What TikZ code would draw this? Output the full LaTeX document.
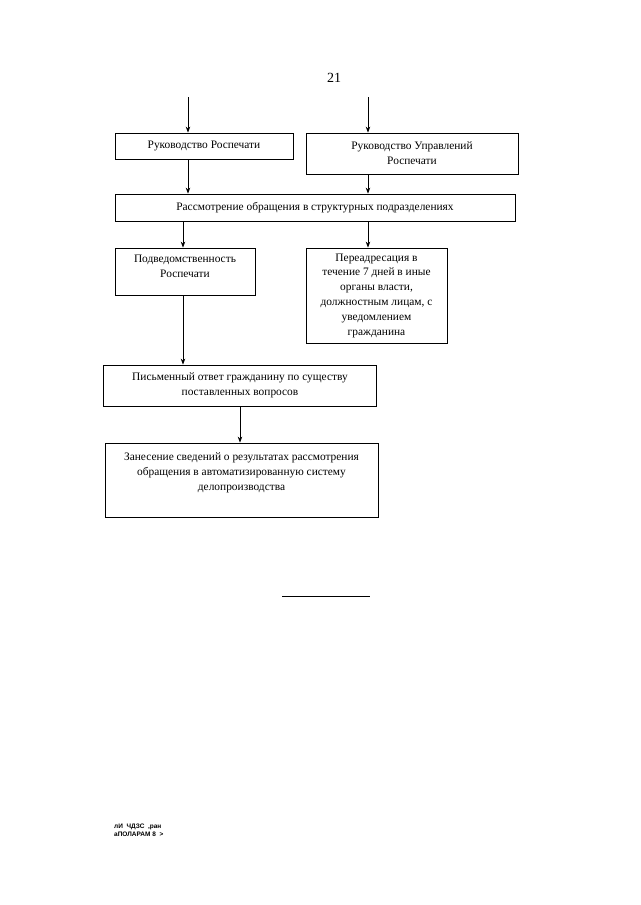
\documentclass[tikz,border=0pt]{standalone}
\usepackage{fontspec}
\setmainfont{Liberation Serif}
\newfontfamily\stampfont{Liberation Sans}
\usetikzlibrary{arrows.meta,calc}
\tikzset{
  box/.style={draw, line width=0.8pt, inner sep=0pt, minimum width=#1},
  txt/.style={align=center, font=\fontsize{11.4}{14.8}\selectfont, inner sep=0pt},
  arr/.style={line width=0.8pt, -{Stealth[length=6pt,width=4.5pt]}},
  plain/.style={line width=0.8pt}
}
\begin{document}
\begin{tikzpicture}[x=1pt,y=-1pt]
\useasboundingbox (0,0) rectangle (640,905);
\node[font=\fontsize{14}{16}\selectfont] (pg) at (334,78) {21};
\coordinate (aL) at (188,97);
\coordinate (aR) at (368,97);
\coordinate (cL) at (183,0);
\coordinate (cR) at (368,0);
\coordinate (cM) at (240,0);
% boxes
\node[box=178pt, minimum height=26pt, txt] (b1) at (204,146) {Руководство Роспечати};
\node[box=212pt, minimum height=41pt, txt] (b2) at (412,153.5) {Руководство Управлений\\Роспечати};
\node[box=400pt, minimum height=27pt, txt] (b3) at (315,207.5) {Рассмотрение обращения в структурных подразделениях};
\node[box=140pt, minimum height=47pt] (b4) at (185,271.5) {};
\node[txt, anchor=north] (t4) at ($(b4.north)+(0,7)$) {Подведомственность\\Роспечати};
\node[box=141pt, minimum height=95pt, txt] (b5) at (376.5,295.5) {Переадресация в\\течение 7 дней в иные\\органы власти,\\должностным лицам, с\\уведомлением\\гражданина};
\node[box=273pt, minimum height=41pt, txt] (b6) at (240,385.5) {Письменный ответ гражданину по существу\\поставленных вопросов};
\node[box=273pt, minimum height=74pt] (b7) at (241.5,480) {};
\node[txt, anchor=north] (t7) at ($(b7.north)+(0,10)$) {Занесение сведений о результатах рассмотрения\\обращения в автоматизированную систему\\делопроизводства};
% connectors
\draw[arr] (aL) -- (b1.north -| aL);
\draw[arr] (aR) -- (b2.north -| aR);
\draw[arr] (b1.south -| aL) -- (b3.north -| aL);
\draw[arr] (b2.south -| aR) -- (b3.north -| aR);
\draw[arr] (b3.south -| cL) -- (b4.north -| cL);
\draw[arr] (b3.south -| cR) -- (b5.north -| cR);
\draw[arr] (b4.south -| cL) -- (b6.north -| cL);
\draw[arr] (b6.south -| cM) -- (b7.north -| cM);
% rule
\coordinate (r1) at (282,596);
\coordinate (r2) at (370,596);
\draw[plain] (r1) -- (r2);
% stamp
\node[anchor=west, align=left, font=\stampfont\bfseries\fontsize{6.5}{8}\selectfont, inner sep=0pt] (stamp) at (114,830) {лИ\ \ ЧДЗС\ \ ,ран\\аПОЛАРАМ\ 8\ \ >};
\end{tikzpicture}
\end{document}
